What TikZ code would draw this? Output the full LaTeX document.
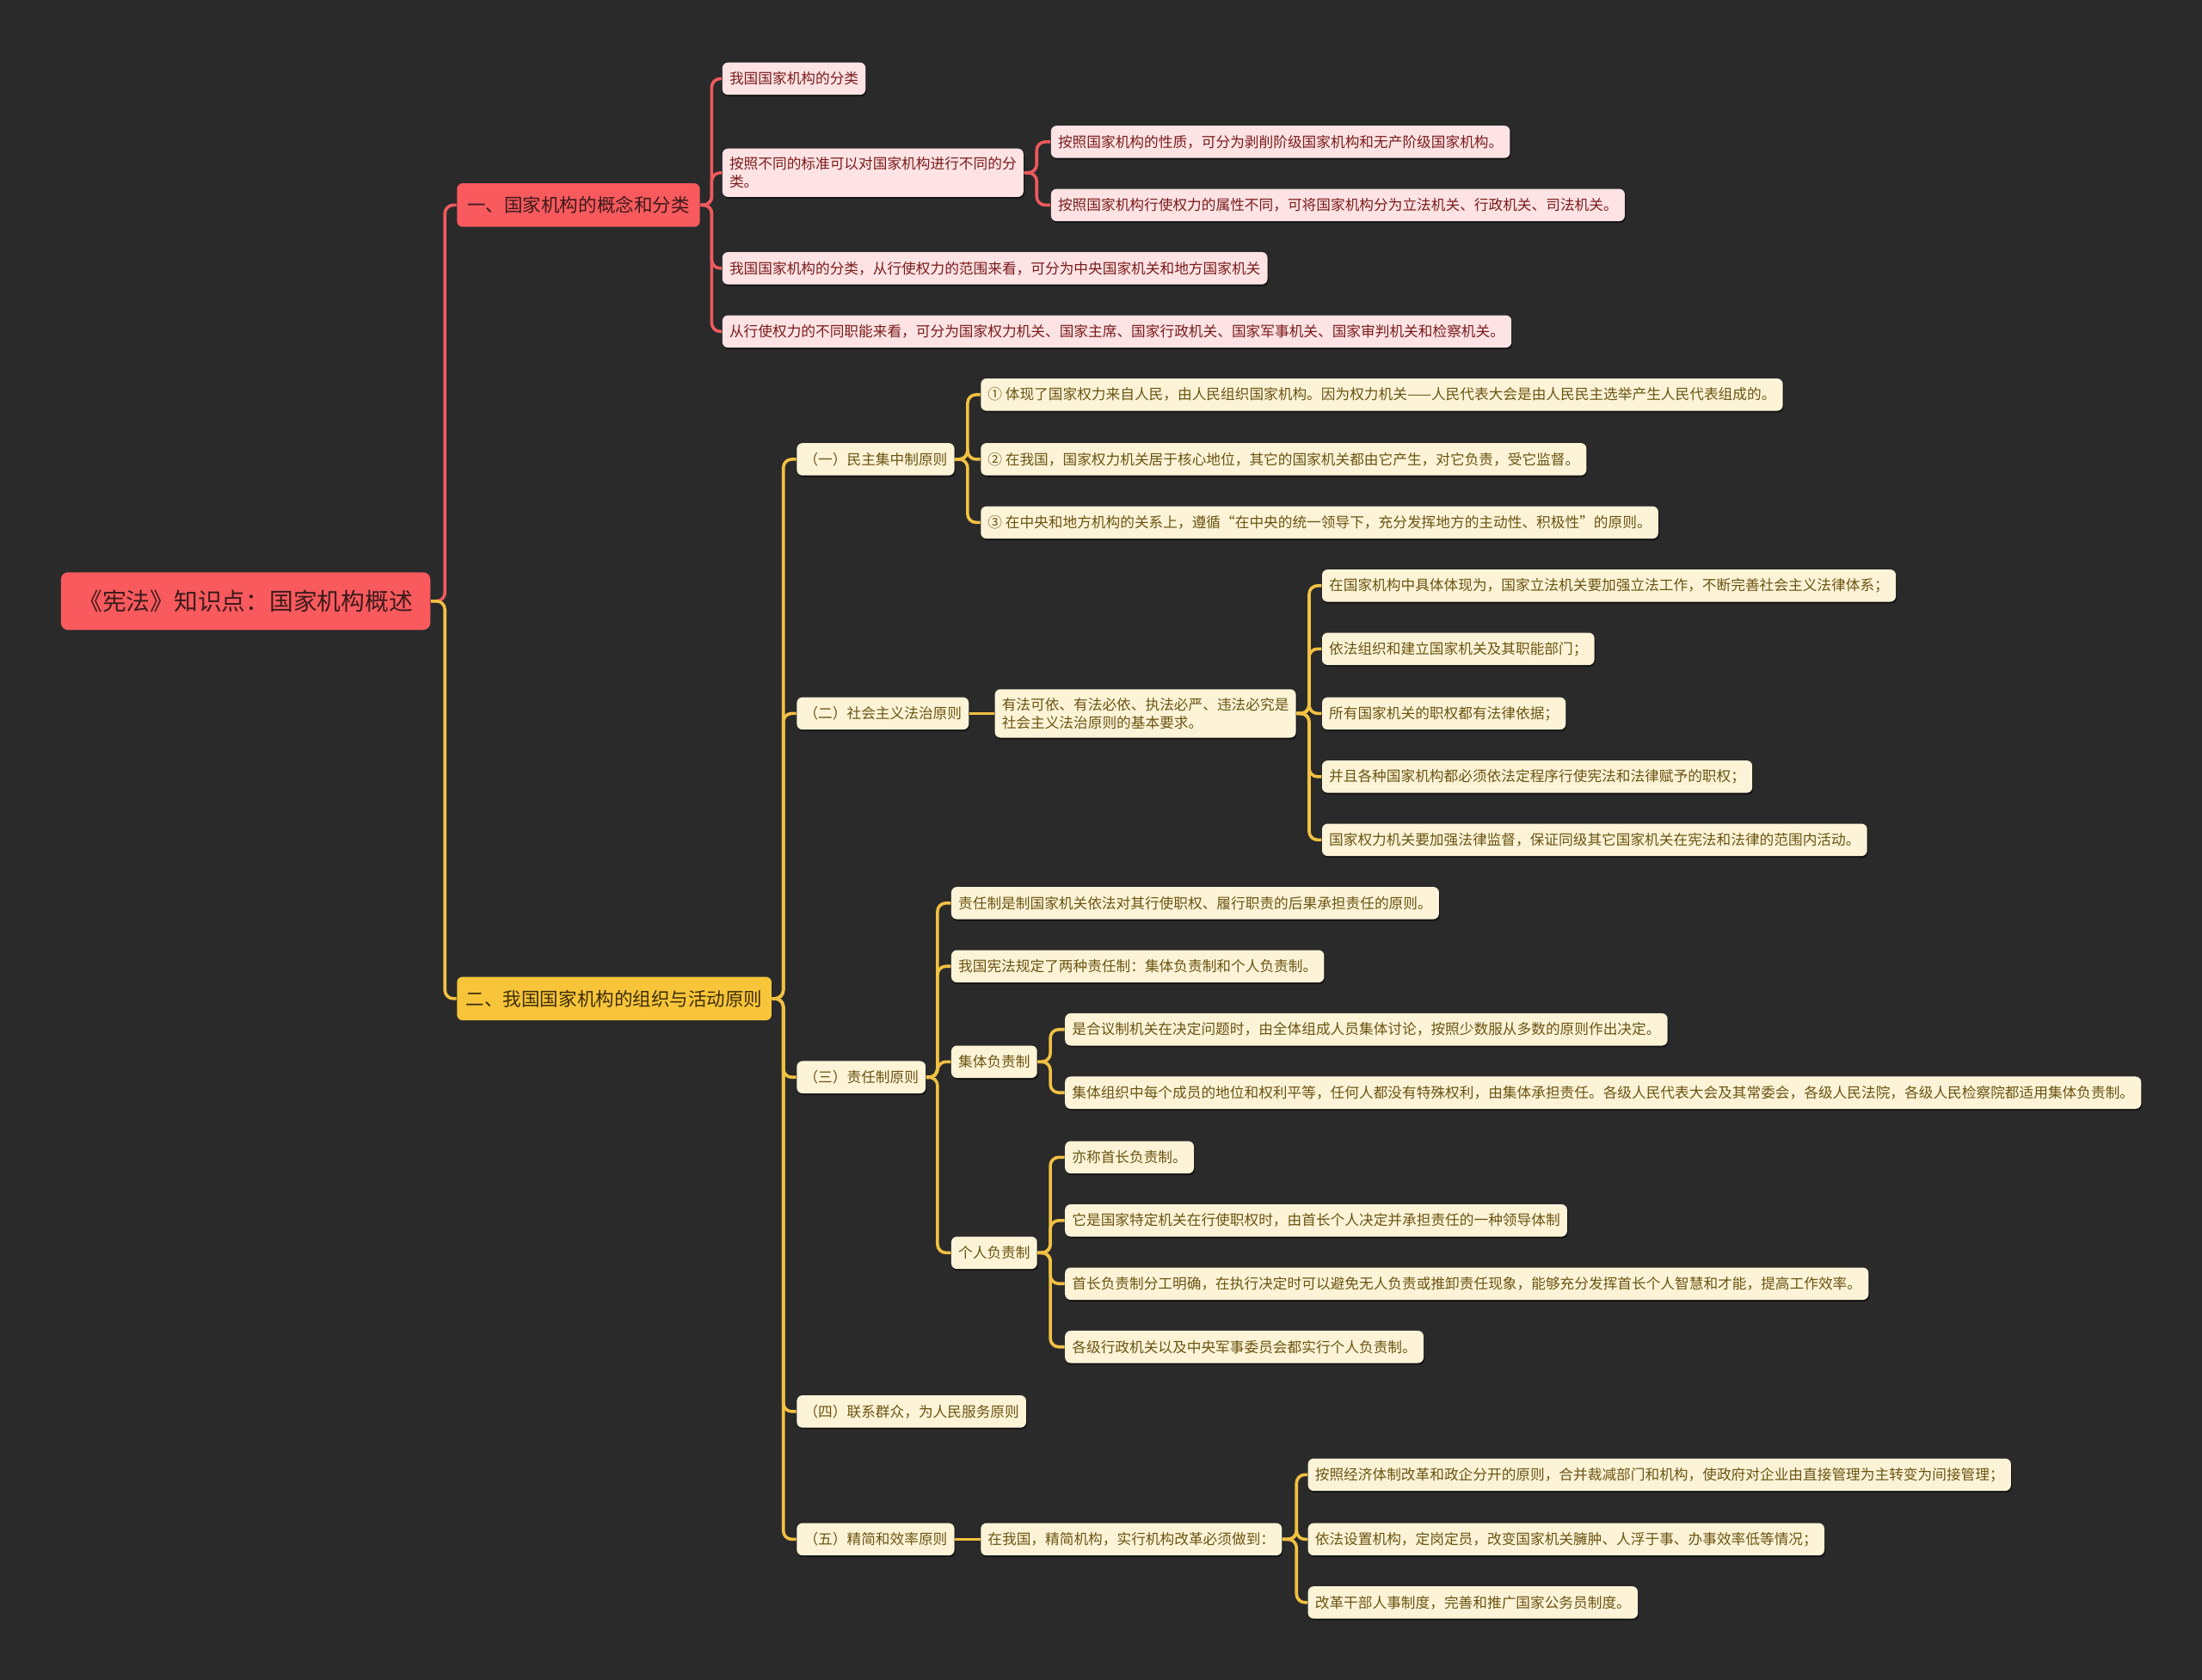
\documentclass[tikz,border=0pt]{standalone}
\usepackage{fontspec}
\newfontfamily\cjk{Noto Sans CJK SC}
\usetikzlibrary{shadows}
\definecolor{bgc}{HTML}{2A2A2A}
\definecolor{rootred}{HTML}{F85A5E}
\definecolor{roottext}{HTML}{3D1A1A}
\definecolor{pinkfill}{HTML}{FDE3E4}
\definecolor{redtext}{HTML}{7A1C1C}
\definecolor{yelfill}{HTML}{F8C53A}
\definecolor{yeltextdark}{HTML}{3D2E08}
\definecolor{creamfill}{HTML}{FDF4D8}
\definecolor{yeltext}{HTML}{6B5412}
\definecolor{redline}{HTML}{EE5A5E}
\definecolor{yelline}{HTML}{F2C142}
\tikzset{
  rootbox/.style={fill=rootred, text=roottext, rounded corners=2.5pt, minimum width=131.5pt, minimum height=20.5pt, inner sep=0pt, anchor=west, font=\cjk\fontsize{8.5}{10}\selectfont},
  lonered/.style={fill=rootred, text=roottext, rounded corners=2pt, minimum width=86.5pt, minimum height=15.5pt, inner sep=0pt, anchor=west, font=\cjk\fontsize{6.6}{8}\selectfont},
  loneyel/.style={fill=yelfill, text=yeltextdark, rounded corners=2pt, minimum width=112pt, minimum height=15.5pt, inner sep=0pt, anchor=west, font=\cjk\fontsize{6.6}{8}\selectfont},
  leafbase/.style={rounded corners=2pt, minimum height=11.5pt, inner xsep=2.5pt, inner ysep=3pt, anchor=west, align=left, font=\cjk\fontsize{5.11}{6.5}\selectfont, drop shadow={shadow xshift=0.3pt, shadow yshift=-0.6pt, opacity=0.55, fill=black}},
  leafred/.style={leafbase, fill=pinkfill, text=redtext},
  leafyel/.style={leafbase, fill=creamfill, text=yeltext},
  rcon/.style={draw=redline, line width=1.1pt, rounded corners=3pt},
  ycon/.style={draw=yelline, line width=1.1pt, rounded corners=3pt}
}
\begin{document}
\begin{tikzpicture}[x=0.5pt,y=-0.5pt]
\fill[bgc] (0,0) rectangle (1568,1196);
\useasboundingbox (0,0) rectangle (1568,1196);

% root and level 1
\node[rootbox] (root) at (43,428) {《宪法》知识点：国家机构概述};
\node[lonered] (L1a) at (325,146) {一、国家机构的概念和分类};
\node[loneyel] (L1b) at (325,711) {二、我国国家机构的组织与活动原则};

% red branch
\node[leafred] (A1) at (514,56) {我国国家机构的分类};
\node[leafred] (A2) at (514,123) {按照不同的标准可以对国家机构进行不同的分\\类。};
\node[leafred] (A3) at (514,191) {我国国家机构的分类，从行使权力的范围来看，可分为中央国家机关和地方国家机关};
\node[leafred] (A4) at (514,236) {从行使权力的不同职能来看，可分为国家权力机关、国家主席、国家行政机关、国家军事机关、国家审判机关和检察机关。};
\node[leafred] (A2a) at (748,101) {按照国家机构的性质，可分为剥削阶级国家机构和无产阶级国家机构。};
\node[leafred] (A2b) at (748,146) {按照国家机构行使权力的属性不同，可将国家机构分为立法机关、行政机关、司法机关。};

% yellow branch level 2
\node[leafyel] (B1) at (567,327) {（一）民主集中制原则};
\node[leafyel] (B2) at (567,508) {（二）社会主义法治原则};
\node[leafyel] (B3) at (567,767) {（三）责任制原则};
\node[leafyel] (B4) at (567,1005) {（四）联系群众，为人民服务原则};
\node[leafyel] (B5) at (567,1096) {（五）精简和效率原则};

% B1 children
\node[leafyel] (B1a) at (698,281) {① 体现了国家权力来自人民，由人民组织国家机构。因为权力机关——人民代表大会是由人民民主选举产生人民代表组成的。};
\node[leafyel] (B1b) at (698,327) {② 在我国，国家权力机关居于核心地位，其它的国家机关都由它产生，对它负责，受它监督。};
\node[leafyel] (B1c) at (698,372) {③ 在中央和地方机构的关系上，遵循“在中央的统一领导下，充分发挥地方的主动性、积极性”的原则。};

% B2 children
\node[leafyel] (B2a) at (708,508) {有法可依、有法必依、执法必严、违法必究是\\社会主义法治原则的基本要求。};
\node[leafyel] (C1) at (941,417) {在国家机构中具体体现为，国家立法机关要加强立法工作，不断完善社会主义法律体系；};
\node[leafyel] (C2) at (941,462) {依法组织和建立国家机关及其职能部门；};
\node[leafyel] (C3) at (941,508) {所有国家机关的职权都有法律依据；};
\node[leafyel] (C4) at (941,553) {并且各种国家机构都必须依法定程序行使宪法和法律赋予的职权；};
\node[leafyel] (C5) at (941,598) {国家权力机关要加强法律监督，保证同级其它国家机关在宪法和法律的范围内活动。};

% B3 children
\node[leafyel] (D1) at (677,643) {责任制是制国家机关依法对其行使职权、履行职责的后果承担责任的原则。};
\node[leafyel] (D2) at (677,688) {我国宪法规定了两种责任制：集体负责制和个人负责制。};
\node[leafyel] (D3) at (677,756) {集体负责制};
\node[leafyel] (D4) at (677,892) {个人负责制};
\node[leafyel] (E1) at (758,733) {是合议制机关在决定问题时，由全体组成人员集体讨论，按照少数服从多数的原则作出决定。};
\node[leafyel] (E2) at (758,778) {集体组织中每个成员的地位和权利平等，任何人都没有特殊权利，由集体承担责任。各级人民代表大会及其常委会，各级人民法院，各级人民检察院都适用集体负责制。};
\node[leafyel] (F1) at (758,824) {亦称首长负责制。};
\node[leafyel] (F2) at (758,869) {它是国家特定机关在行使职权时，由首长个人决定并承担责任的一种领导体制};
\node[leafyel] (F3) at (758,914) {首长负责制分工明确，在执行决定时可以避免无人负责或推卸责任现象，能够充分发挥首长个人智慧和才能，提高工作效率。};
\node[leafyel] (F4) at (758,959) {各级行政机关以及中央军事委员会都实行个人负责制。};

% B5 children
\node[leafyel] (B5a) at (698,1096) {在我国，精简机构，实行机构改革必须做到：};
\node[leafyel] (G1) at (931,1050) {按照经济体制改革和政企分开的原则，合并裁减部门和机构，使政府对企业由直接管理为主转变为间接管理；};
\node[leafyel] (G2) at (931,1096) {依法设置机构，定岗定员，改变国家机关臃肿、人浮于事、办事效率低等情况；};
\node[leafyel] (G3) at (931,1141) {改革干部人事制度，完善和推广国家公务员制度。};

% connectors
\draw[rcon] (root.east) -- ++(10,0) |- (L1a.west);
\draw[ycon] (root.east) -- ++(10,0) |- (L1b.west);
\foreach \n in {A1,A2,A3,A4} \draw[rcon] (L1a.east) -- ++(8,0) |- (\n.west);
\foreach \n in {A2a,A2b} \draw[rcon] (A2.east) -- ++(9,0) |- (\n.west);
\foreach \n in {B1,B2,B3,B4,B5} \draw[ycon] (L1b.east) -- ++(8,0) |- (\n.west);
\foreach \n in {B1a,B1b,B1c} \draw[ycon] (B1.east) -- ++(9,0) |- (\n.west);
\draw[ycon] (B2.east) -- (B2a.west);
\foreach \n in {C1,C2,C3,C4,C5} \draw[ycon] (B2a.east) -- ++(9,0) |- (\n.west);
\foreach \n in {D1,D2,D3,D4} \draw[ycon] (B3.east) -- ++(8,0) |- (\n.west);
\foreach \n in {E1,E2} \draw[ycon] (D3.east) -- ++(9,0) |- (\n.west);
\foreach \n in {F1,F2,F3,F4} \draw[ycon] (D4.east) -- ++(9,0) |- (\n.west);
\draw[ycon] (B5.east) -- (B5a.west);
\foreach \n in {G1,G2,G3} \draw[ycon] (B5a.east) -- ++(10,0) |- (\n.west);
\end{tikzpicture}
\end{document}
